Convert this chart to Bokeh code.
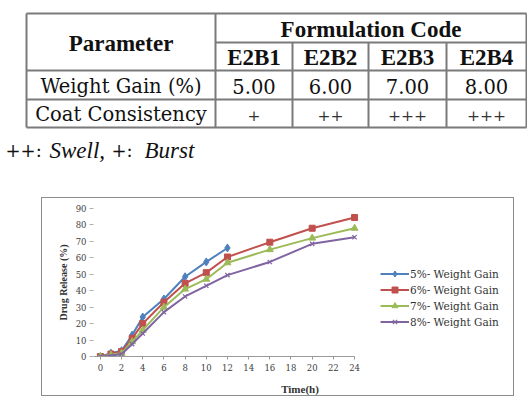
from bokeh.plotting import figure
from bokeh.models import Range1d, FixedTicker, Legend, LegendItem
from bokeh.core.properties import value
from bokeh.embed import file_html
from bokeh.resources import INLINE

# ---- table data ----
param_header = "Parameter"
group_header = "Formulation Code"
codes = ["E2B1", "E2B2", "E2B3", "E2B4"]
row_labels = ["Weight Gain (%)", "Coat Consistency"]
weight_gain = ["5.00", "6.00", "7.00", "8.00"]
consistency = ["+", "++", "+++", "+++"]

# ---- release profile data ----
time_5 = [0, 1, 2, 3, 4, 6, 8, 10, 12]
rel_5 = [0, 2.0, 3.5, 13, 24, 35, 48.5, 57.5, 66]
time_all = [0, 1, 2, 3, 4, 6, 8, 10, 12, 16, 20, 24]
rel_6 = [0, 1.5, 3, 11, 20, 33, 44.5, 51, 60.5, 69.5, 78, 84.5]
rel_7 = [0, 1, 2, 9, 16, 30, 41, 47, 57, 65, 72, 78]
rel_8 = [0, 0.5, 1.5, 7.5, 14, 27, 36.5, 43, 49.5, 57.5, 68.5, 72.5]
series_names = ["5%- Weight Gain", "6%- Weight Gain", "7%- Weight Gain", "8%- Weight Gain"]
x_ticks = list(range(0, 25, 2))
y_ticks = list(range(0, 91, 10))

SERIF_BI = "Liberation Serif"   # bold / italic faces
SERIF_R = "DejaVu Serif"        # upright regular face

# ================= table =================
t = figure(width=527, height=190, x_range=Range1d(0, 527), y_range=Range1d(190, 0),
           output_backend="svg", toolbar_location=None, min_border=0)
t.axis.visible = False
t.grid.visible = False
t.outline_line_color = None

col_x = [26, 215, 292, 368, 446, 526]
row_y = [13, 42, 70, 99, 127]
line_col = "#7a7a7a"
# vertical rules
t.segment(x0=[col_x[0], col_x[1], col_x[5]], y0=[row_y[0]] * 3,
          x1=[col_x[0], col_x[1], col_x[5]], y1=[row_y[4]] * 3,
          line_color=line_col, line_width=2)
t.segment(x0=col_x[2:5], y0=[row_y[1]] * 3, x1=col_x[2:5], y1=[row_y[4]] * 3,
          line_color=line_col, line_width=2)
# horizontal rules
t.segment(x0=[col_x[0], col_x[1], col_x[0], col_x[0], col_x[0]],
          y0=row_y, x1=[col_x[5]] * 5, y1=row_y,
          line_color=line_col, line_width=2)

centers = [(col_x[i] + col_x[i + 1]) / 2 for i in range(1, 5)]
t.text(x=[(col_x[0] + col_x[1]) / 2], y=[43], text=[param_header],
       text_font=value(SERIF_BI), text_font_style="bold", text_font_size="23px",
       text_align="center", text_baseline="middle", text_color="#111111")
t.text(x=[(col_x[1] + col_x[5]) / 2], y=[29], text=[group_header],
       text_font=value(SERIF_BI), text_font_style="bold", text_font_size="23px",
       text_align="center", text_baseline="middle", text_color="#111111")
t.text(x=centers, y=[57] * 4, text=codes,
       text_font=value(SERIF_BI), text_font_style="bold", text_font_size="23px",
       text_align="center", text_baseline="middle", text_color="#111111")
t.text(x=[(col_x[0] + col_x[1]) / 2] * 2, y=[86, 114], text=row_labels,
       text_font=value(SERIF_R), text_font_size="19.5px",
       text_align="center", text_baseline="middle", text_color="#111111")
t.text(x=centers, y=[86] * 4, text=weight_gain,
       text_font=value(SERIF_R), text_font_size="19.5px",
       text_align="center", text_baseline="middle", text_color="#111111")
t.text(x=centers, y=[115] * 4, text=consistency,
       text_font=value(SERIF_R), text_font_size="15.5px",
       text_align="center", text_baseline="middle", text_color="#333333")
# footnote
t.text(x=[5, 111], y=[150, 150], text=["++:", "+:"],
       text_font=value(SERIF_R), text_font_size="18px",
       text_align="left", text_baseline="alphabetic", text_color="#111111")
t.text(x=[49, 144], y=[150, 150], text=["Swell,", "Burst"],
       text_font=value(SERIF_BI), text_font_style="italic", text_font_size="23px",
       text_align="left", text_baseline="alphabetic", text_color="#111111")

# ================= chart =================
# frame runs wider than the time axis so the legend can sit to its right
p = figure(width=473, height=199, x_range=Range1d(-0.65, 38.35), y_range=Range1d(0, 90),
           output_backend="svg", toolbar_location=None,
           min_border_left=51, min_border_right=9, min_border_top=10, min_border_bottom=41,
           margin=(7, 0, 0, 41), styles={"border": "1px solid #8c8c8c"})
p.grid.visible = False
p.outline_line_color = None

p.xaxis.ticker = FixedTicker(ticks=x_ticks)
p.xaxis.bounds = (-0.65, 24)
p.yaxis.ticker = FixedTicker(ticks=y_ticks)
for ax in (p.xaxis, p.yaxis):
    ax.major_label_text_font = SERIF_R
    ax.major_label_text_font_size = "8.5px"
    ax.major_label_text_color = "#404040"
    ax.minor_tick_line_color = None
    ax.major_tick_in = 0
    ax.axis_label_text_font = SERIF_BI
    ax.axis_label_text_font_style = "bold"
    ax.axis_label_text_color = "#333333"
p.xaxis.axis_line_color = "#9a9a9a"
p.xaxis.major_tick_line_color = "#9a9a9a"
p.xaxis.major_tick_out = 3
p.xaxis.major_label_standoff = 4
p.xaxis.axis_label = "Time(h)"
p.xaxis.axis_label_text_font_size = "11px"
p.xaxis.axis_label_standoff = 9
p.yaxis.axis_line_color = None
p.yaxis.major_tick_line_color = "#b0b0b0"
p.yaxis.major_tick_out = 4
p.yaxis.major_label_standoff = 3
p.yaxis.axis_label = "Drug Release (%)"
p.yaxis.axis_label_text_font_size = "10px"
p.yaxis.axis_label_standoff = 4

blue, red, green, purple = "#4F81BD", "#C0504D", "#9BBB59", "#8064A2"
l5 = p.line(time_5, rel_5, line_color=blue, line_width=2)
m5 = p.scatter(time_5, rel_5, marker="diamond", size=8, color=blue)
l6 = p.line(time_all, rel_6, line_color=red, line_width=2)
m6 = p.scatter(time_all, rel_6, marker="square", size=6, color=red)
l7 = p.line(time_all, rel_7, line_color=green, line_width=2)
m7 = p.scatter(time_all, rel_7, marker="triangle", size=7, color=green)
l8 = p.line(time_all, rel_8, line_color=purple, line_width=2)
m8 = p.scatter(time_all, rel_8, marker="x", size=6, line_color=purple, line_width=1.2)

legend = Legend(items=[
    LegendItem(label=series_names[0], renderers=[l5, m5]),
    LegendItem(label=series_names[1], renderers=[l6, m6]),
    LegendItem(label=series_names[2], renderers=[l7, m7]),
    LegendItem(label=series_names[3], renderers=[l8, m8]),
], location=(287, 27))
legend.label_text_font = SERIF_R
legend.label_text_font_size = "10.5px"
legend.label_text_color = "#333333"
legend.glyph_width = 29
legend.glyph_height = 15
legend.spacing = 1
legend.padding = 0
legend.margin = 0
legend.label_standoff = 1
legend.label_height = 15
legend.background_fill_alpha = 0
legend.border_line_color = None
p.add_layout(legend)

# two independent roots stacked on the page: the table, then the chart
open("out.html", "w").write(file_html([t, p], INLINE))
